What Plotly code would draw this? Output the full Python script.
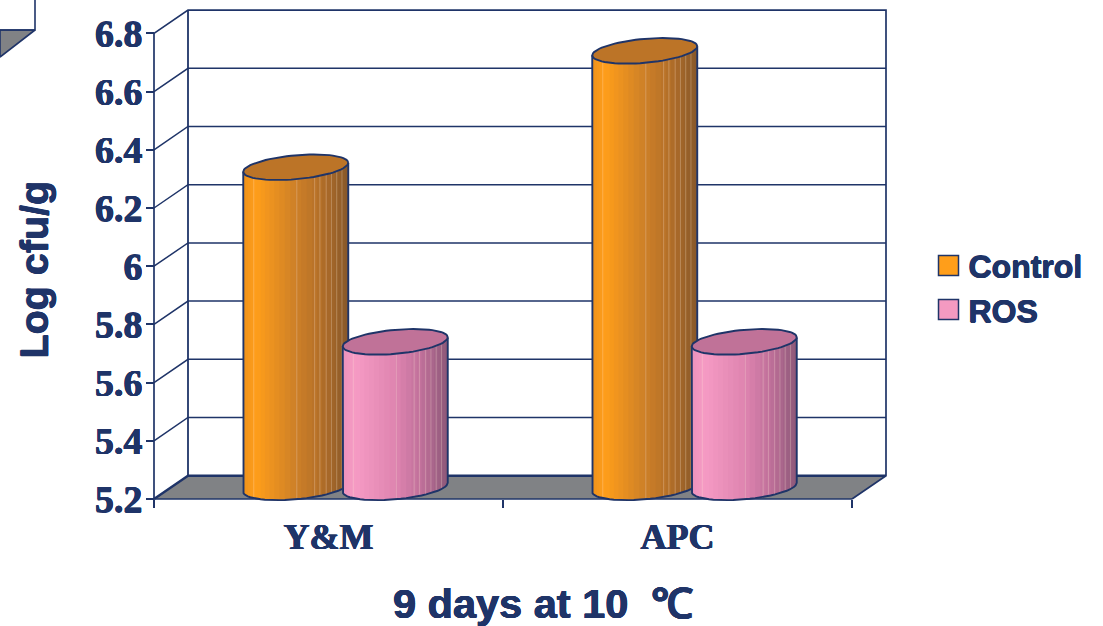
import math
import plotly.graph_objects as go

# ---- data ----
categories = ["Y&M", "APC"]
control = [6.3, 6.7]
ros = [5.7, 5.7]
y_ticks = [5.2, 5.4, 5.6, 5.8, 6.0, 6.2, 6.4, 6.6, 6.8]
y_tick_labels = ["5.2", "5.4", "5.6", "5.8", "6", "6.2", "6.4", "6.6", "6.8"]
series_names = ["Control", "ROS"]

# ---- geometry / style ----
W, H = 1103, 626
NAVY = "#1F3468"
HEAVY = "0.45px 0 0 #1F3468, -0.45px 0 0 #1F3468, 0 0.3px 0 #1F3468, 0 -0.3px 0 #1F3468"
X0_PX, X_UNIT = 154.0, 349.0      # px of x=0 and px per category
Y0_PX, Y_UNIT = 499.0, 291.0      # px of y=5.2 and px per log unit
YMIN, YMAX = 5.2, 6.8
DX = 34.0 / X_UNIT                # depth shift of the back wall
DY = 23.3 / Y_UNIT
BAR_OFF = 49.75 / X_UNIT
RX = 52.5 / X_UNIT
RY = 12.0 / Y_UNIT
SKEW = 4.5 / Y_UNIT
N_STRIP = 30
SEAMS = [.10, .51, .68, .73, .79, .84, .89, .94]

ORANGE = [(0, (238, 146, 28)), (.12, (255, 158, 26)), (.5, (205, 128, 40)),
          (.75, (178, 110, 40)), (1, (135, 88, 42))]
PINK = [(0, (236, 146, 188)), (.12, (246, 155, 196)), (.5, (222, 132, 176)),
        (.75, (192, 112, 154)), (1, (140, 88, 120))]
TOPS = ["#BC7427", "#C07298"]
LEG = ["#FF9E1A", "#F49AC1"]
LEG_PX = [(948.5, 265.5), (948.5, 309.5)]


def ramp(stops, u):
    for (a, ca), (b, cb) in zip(stops, stops[1:]):
        if u <= b:
            f = (u - a) / (b - a)
            return "rgb(%d,%d,%d)" % tuple(round(p + (q - p) * f) for p, q in zip(ca, cb))
    return "rgb(%d,%d,%d)" % stops[-1][1]


def px_x(p):
    return (p - X0_PX) / X_UNIT


def px_y(p):
    return YMIN + (Y0_PX - p) / Y_UNIT


fig = go.Figure()


def poly(xs, ys, fill=None, line=None, width=1.6):
    fig.add_trace(go.Scatter(
        x=xs, y=ys, mode="lines", showlegend=False, hoverinfo="skip",
        fill="toself" if fill else "none", fillcolor=fill,
        line=dict(color=line or "rgba(0,0,0,0)", width=width if line else 0),
    ))


# neighbouring chart fragment cropped at the top-left corner
poly([px_x(0), px_x(35), px_x(0), px_x(0)], [px_y(30), px_y(30), px_y(57), px_y(30)], fill="#808285", line=NAVY)
poly([px_x(35), px_x(35), px_x(0)], [px_y(0), px_y(30), px_y(30)], line=NAVY)

# floor
XR = len(categories)
poly([0, XR, XR + DX, DX, 0], [YMIN, YMIN, YMIN + DY, YMIN + DY, YMIN], fill="#808285")
# gridlines on the side and back walls
for v in y_ticks[1:-1]:
    poly([0, DX, XR + DX], [v, v + DY, v + DY], line=NAVY, width=1.5)
# frame
poly([0, 0, DX, XR + DX, XR + DX, XR], [YMIN, YMAX, YMAX + DY, YMAX + DY, YMIN + DY, YMIN], line=NAVY, width=1.7)
poly([DX, DX], [YMAX + DY, YMIN + DY], line=NAVY, width=1.8)
poly([0, DX, XR + DX], [YMIN, YMIN + DY, YMIN + DY], line=NAVY, width=2.4)
poly([0, XR], [YMIN, YMIN], line=NAVY, width=1.7)


def cylinder(cx, value, stops, top):
    base = YMIN + DY / 2
    head = value + DY / 2

    def pt(t, level):
        return cx + RX * math.cos(t), level + SKEW * math.cos(t) + RY * math.sin(t)

    ts = [math.pi + math.pi * i / N_STRIP for i in range(N_STRIP + 1)]
    for a, b in zip(ts, ts[1:]):
        u = (math.cos((a + b) / 2) + 1) / 2
        c = min(b + 0.06, 2 * math.pi)     # overlap the next strip so no seam shows
        p = [pt(a, base), pt(c, base), pt(c, head), pt(a, head), pt(a, base)]
        poly([q[0] for q in p], [q[1] for q in p], fill=ramp(stops, u))
    # thin pale facet seams
    for s in SEAMS:
        t = math.acos(2 * s - 1)
        t = 2 * math.pi - t
        a, b = pt(t, base), pt(t, head)
        poly([a[0], b[0]], [a[1], b[1]], line="rgba(255,235,215,0.28)", width=1)
    # lid
    circle = [2 * math.pi * i / 72 for i in range(73)]
    poly([pt(t, head)[0] for t in circle], [pt(t, head)[1] for t in circle], fill=top, line=NAVY, width=1.9)
    # silhouette
    outline = [pt(math.pi, head)] + [pt(t, base) for t in ts] + [pt(2 * math.pi, head)]
    poly([q[0] for q in outline], [q[1] for q in outline], line=NAVY, width=1.9)


for i in range(len(categories)):
    centre = i + 0.5 + DX / 2
    cylinder(centre - BAR_OFF, control[i], ORANGE, TOPS[0])
    cylinder(centre + BAR_OFF, ros[i], PINK, TOPS[1])

# larger key squares behind the legend's own swatches
for colour, (lx, ly) in zip(LEG, LEG_PX):
    fig.add_trace(go.Scatter(
        x=[px_x(lx)], y=[px_y(ly)], mode="markers", showlegend=False, hoverinfo="skip",
        marker=dict(symbol="square", size=20, color=colour, line=dict(color=NAVY, width=1.5)),
    ))

# legend entries
for name, colour in zip(series_names, LEG):
    fig.add_trace(go.Scatter(
        x=[None], y=[None], mode="markers", name=name, hoverinfo="skip",
        marker=dict(symbol="square", size=16, color=colour, line=dict(width=0)),
    ))

fig.update_layout(
    width=W, height=H, margin=dict(l=0, r=0, t=0, b=0), autosize=False,
    paper_bgcolor="white", plot_bgcolor="white", hovermode=False,
    legend=dict(
        x=928.5 / W, y=1 - 288 / H, xanchor="left", yanchor="middle",
        font=dict(family="Liberation Sans", size=32, color=NAVY, weight="bold", shadow=HEAVY),
        itemwidth=30, bgcolor="rgba(0,0,0,0)",
    ),
    xaxis=dict(
        range=[px_x(0), px_x(W)], domain=[0, 1], anchor="free", position=1 - Y0_PX / H,
        showgrid=False, zeroline=False, showline=False,
        tickmode="array", tickvals=[i + 0.5 for i in range(len(categories))], ticktext=categories,
        ticks="outside", ticklen=8, tickcolor="rgba(0,0,0,0)", ticklabelstandoff=-2,
        tickfont=dict(family="Liberation Serif", size=36, color=NAVY, weight="bold", shadow=HEAVY),
        minor=dict(tickmode="array", tickvals=list(range(len(categories) + 1)), ticks="outside",
                   ticklen=8, tickwidth=1.6, tickcolor=NAVY, showgrid=False),
    ),
    yaxis=dict(
        range=[px_y(H), px_y(0)], domain=[0, 1], anchor="free", position=X0_PX / W,
        showgrid=False, zeroline=False, showline=False,
        tickmode="array", tickvals=y_ticks, ticktext=y_tick_labels,
        ticks="outside", ticklen=8, tickwidth=1.6, tickcolor=NAVY, ticklabelstandoff=-4,
        tickfont=dict(family="Liberation Serif", size=38, color=NAVY, weight="bold", shadow=HEAVY),
    ),
    annotations=[
        dict(text="<b>9 days at 10\u00a0\u00a0℃</b>", xref="paper", yref="paper", x=543 / W, y=1 - 603 / H,
             showarrow=False, xanchor="center", yanchor="middle",
             font=dict(family="Liberation Sans", size=41.5, color=NAVY, shadow=HEAVY)),
        dict(text="<b>Log cfu/g</b>", xref="paper", yref="paper", x=33 / W, y=1 - 269.5 / H,
             showarrow=False, textangle=-90, xanchor="center", yanchor="middle",
             font=dict(family="Liberation Sans", size=39.5, color=NAVY, shadow=HEAVY)),
    ],
)

fig.write_html(
    "out.html", config=dict(displayModeBar=False),
    post_script="document.body.style.margin='0';document.documentElement.style.overflow='hidden';",
)
